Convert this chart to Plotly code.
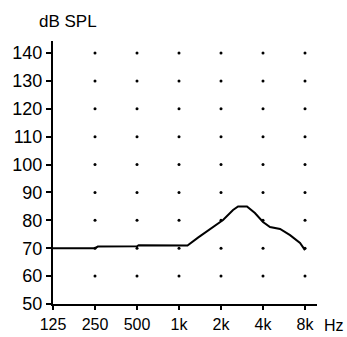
import math
import plotly.graph_objects as go

# Response curve (frequency in Hz, level in dB SPL)
freq_hz = [125, 250, 262, 500, 514, 1150, 1368, 1750, 2068, 2439, 2650,
           3070, 3500, 4000, 4490, 5300, 6250, 7370, 8000]
level_db = [70, 70, 70.6, 70.7, 71.1, 71.0, 73.8, 77.7, 80.1, 83.7, 85.0,
            85.0, 82.6, 79.4, 77.6, 76.9, 74.7, 71.9, 69.3]

# Axis ticks
x_ticks = [125, 250, 500, 1000, 2000, 4000, 8000]
x_labels = ["125", "250", "500", "1k", "2k", "4k", "8k"]
y_ticks = [50, 60, 70, 80, 90, 100, 110, 120, 130, 140]

# Dotted grid positions
grid_x = [250, 500, 1000, 2000, 4000, 8000]
grid_y = [60, 70, 80, 90, 100, 110, 120, 130, 140]

FONT = "Liberation Sans, Arial, sans-serif"

dot_x = [gx for gx in grid_x for gy in grid_y]
dot_y = [gy for gx in grid_x for gy in grid_y]

fig = go.Figure()
fig.add_trace(go.Scatter(
    x=dot_x, y=dot_y, mode="markers",
    marker=dict(color="black", size=3, line=dict(width=0)),
    hoverinfo="skip", showlegend=False,
))
fig.add_trace(go.Scatter(
    x=freq_hz, y=level_db, mode="lines",
    line=dict(color="black", width=2),
    showlegend=False,
))

fig.update_xaxes(
    type="log",
    range=[math.log10(125), math.log10(9750)],
    tickvals=x_ticks, ticktext=x_labels,
    showline=True, linecolor="black", linewidth=2,
    ticks="outside", ticklen=4, tickwidth=2, tickcolor="black",
    ticklabelstandoff=1,
    showgrid=False, zeroline=False, automargin=False,
    tickfont=dict(family=FONT, size=16, color="black"),
)
fig.update_yaxes(
    range=[50, 144.3],
    tickvals=y_ticks,
    showline=True, linecolor="black", linewidth=2,
    ticks="outside", ticklen=5, tickwidth=2, tickcolor="black",
    showgrid=False, zeroline=False, automargin=False,
    tickfont=dict(family=FONT, size=18, color="black"),
)

fig.add_annotation(
    text="dB SPL", xref="paper", yref="paper", x=-0.06, y=1.076,
    xanchor="left", yanchor="middle", showarrow=False,
    font=dict(family=FONT, size=17, color="black"),
)
fig.add_annotation(
    text="Hz", xref="paper", yref="paper", x=1.02, y=-0.08,
    xanchor="left", yanchor="middle", showarrow=False,
    font=dict(family=FONT, size=16, color="black"),
)

fig.update_layout(
    width=347, height=337,
    margin=dict(l=53, r=30, t=41, b=33),
    paper_bgcolor="white", plot_bgcolor="white",
)

fig.write_html("out.html")
